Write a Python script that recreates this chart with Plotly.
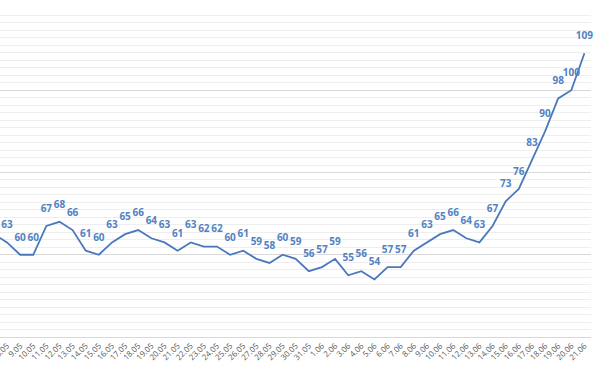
import plotly.graph_objects as go

dates = ["7.05", "8.05", "9.05", "10.05", "11.05", "12.05", "13.05", "14.05", "15.05", "16.05",
         "17.05", "18.05", "19.05", "20.05", "21.05", "22.05", "23.05", "24.05", "25.05", "26.05",
         "27.05", "28.05", "29.05", "30.05", "31.05", "1.06", "2.06", "3.06", "4.06", "5.06",
         "6.06", "7.06", "8.06", "9.06", "10.06", "11.06", "12.06", "13.06", "14.06", "15.06",
         "16.06", "17.06", "18.06", "19.06", "20.06", "21.06"]
values = [65, 63, 60, 60, 67, 68, 66, 61, 60, 63,
          65, 66, 64, 63, 61, 63, 62, 62, 60, 61,
          59, 58, 60, 59, 56, 57, 59, 55, 56, 54,
          57, 57, 61, 63, 65, 66, 64, 63, 67, 73,
          76, 83, 90, 98, 100, 109]

idx = list(range(len(dates)))
# first point lies outside the visible (cropped) area, so its label is not shown
labels = [""] + [str(v) for v in values[1:]]

line_color = "#4a78bb"

fig = go.Figure()
fig.add_trace(go.Scatter(
    x=idx, y=values,
    mode="lines+markers+text",
    line=dict(color=line_color, width=1.8),
    marker=dict(size=17, opacity=0, color=line_color),
    text=labels,
    textposition="top center",
    textfont=dict(family="Open Sans", size=10, color="#5282c2", weight="bold"),
    cliponaxis=False,
    hoverinfo="skip",
))

fig.update_layout(
    width=600, height=365,
    margin=dict(l=0, r=9, t=8, b=28, autoexpand=False),
    paper_bgcolor="white", plot_bgcolor="white",
    showlegend=False,
    xaxis=dict(
        tickmode="array", tickvals=idx, ticktext=dates,
        range=[0.466, 45.5],
        tickangle=-45,
        tickfont=dict(family="Open Sans", size=8, color="#595959"),
        ticklabeloverflow="allow",
        showgrid=False, zeroline=False,
        showline=True, linecolor="#d9d9d9", linewidth=1,
        ticks="", ticklen=0, automargin=False,
    ),
    yaxis=dict(
        range=[40, 120], dtick=20, tick0=0,
        showticklabels=False,
        showgrid=True, gridcolor="#d9d9d9", gridwidth=1,
        zeroline=False, showline=False, automargin=False,
        minor=dict(dtick=20/11, showgrid=True, gridcolor="#eeeeee", gridwidth=1),
    ),
)

fig.write_html(
    "out.html",
    config={"displayModeBar": False, "staticPlot": True},
    post_script="document.body.style.margin='0';document.body.style.overflow='hidden';",
)
